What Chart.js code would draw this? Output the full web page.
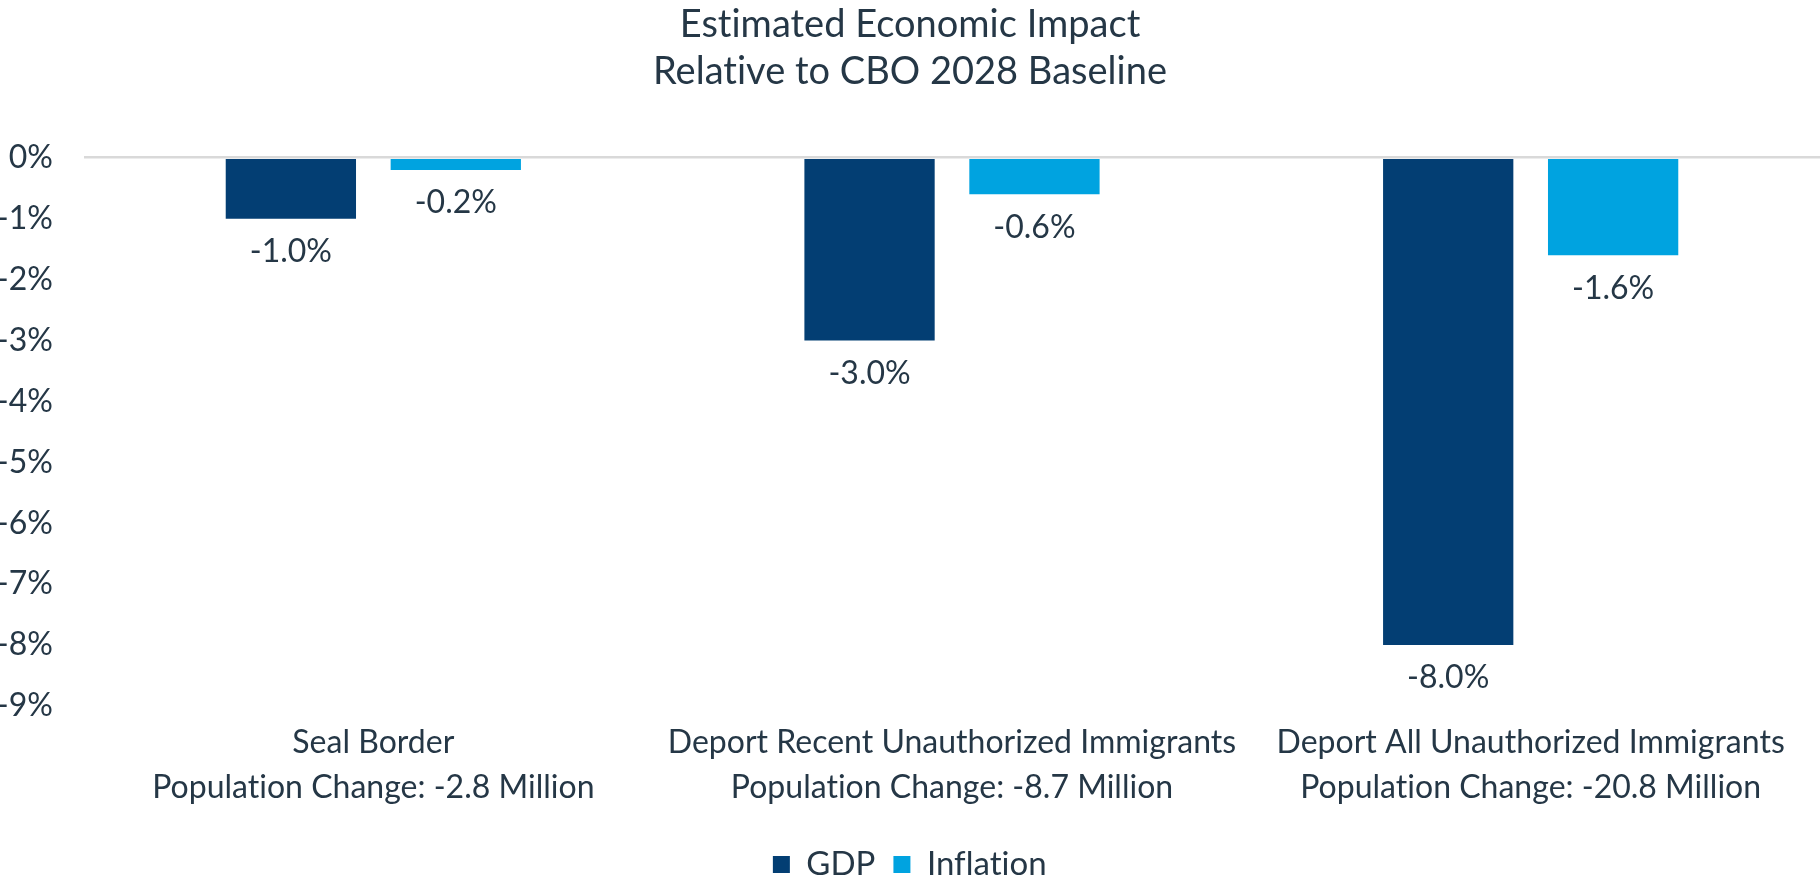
<!DOCTYPE html>
<html lang="en">
  <head>
    <meta charset="UTF-8" />
    <title>Estimated Economic Impact</title>
    <style>
      body {
        margin: 0;
        padding: 0;
        background: #ffffff;
        overflow: hidden;
      }
      /* a bit taller than the window: the legend is cut at the bottom edge like in the original */
      .chart-box {
        position: relative;
        width: 1820px;
        height: 891px;
      }
    </style>
    <script src="https://cdn.jsdelivr.net/npm/chart.js"></script>
  </head>
  <body>
    <div class="chart-box">
      <canvas id="impactChart"></canvas>
    </div>
    <script>
      // values
      const categories = [
        ["Seal Border", "Population Change: -2.8 Million"],
        ["Deport Recent Unauthorized Immigrants", "Population Change: -8.7 Million"],
        ["Deport All Unauthorized Immigrants", "Population Change: -20.8 Million"],
      ];
      const gdpValues = [-1.0, -3.0, -8.0];
      const inflationValues = [-0.2, -0.6, -1.6];
      const titleLines = ["Estimated Economic Impact", "Relative to CBO 2028 Baseline"];

      const textColor = "#253746";
      const fontFamily = "Lato, 'Open Sans', Arial, sans-serif";

      // tiny letter spacing keeps Lato from using its "ti" ligature
      const noLigatures = {
        id: "noLigatures",
        beforeInit(chart) {
          chart.ctx.letterSpacing = "0.01px";
        },
        beforeDraw(chart) {
          chart.ctx.letterSpacing = "0.01px";
        },
      };

      // draws the "-1.0%" style labels under each bar
      const valueLabels = {
        id: "valueLabels",
        afterDatasetsDraw(chart) {
          const ctx = chart.ctx;
          ctx.save();
          ctx.font = "32px " + fontFamily;
          ctx.fillStyle = textColor;
          ctx.textAlign = "center";
          ctx.textBaseline = "middle";
          chart.data.datasets.forEach((ds, i) => {
            const meta = chart.getDatasetMeta(i);
            meta.data.forEach((bar, j) => {
              ctx.fillText(ds.data[j].toFixed(1) + "%", bar.x, bar.y + 33);
            });
          });
          ctx.restore();
        },
      };

      const ctx = document.getElementById("impactChart").getContext("2d");
      const impactChart = new Chart(ctx, {
        type: "bar",
        data: {
          labels: categories,
          datasets: [
            {
              label: "GDP",
              data: gdpValues,
              backgroundColor: "#033e73",
              categoryPercentage: 0.57,
              barPercentage: 0.79,
            },
            {
              label: "Inflation",
              data: inflationValues,
              backgroundColor: "#00a3e0",
              categoryPercentage: 0.57,
              barPercentage: 0.79,
            },
          ],
        },
        options: {
          responsive: true,
          maintainAspectRatio: false,
          animation: false,
          layout: { padding: 0 },
          plugins: {
            title: {
              display: true,
              text: titleLines,
              color: textColor,
              font: { family: fontFamily, size: 38, weight: "normal", lineHeight: 1.22 },
              padding: { top: 2, bottom: 63 },
            },
            legend: {
              position: "bottom",
              labels: {
                color: textColor,
                font: { family: fontFamily, size: 33 },
                boxWidth: 17,
                boxHeight: 17,
                padding: 18,
              },
            },
            tooltip: { enabled: false },
          },
          scales: {
            x: {
              grid: { display: false },
              border: { display: false },
              ticks: {
                color: textColor,
                font: { family: fontFamily, size: 32, lineHeight: 1.4 },
                padding: 6,
                maxRotation: 0,
                autoSkip: false,
              },
              afterFit(scale) {
                scale.height = 124;
              },
            },
            y: {
              min: -9,
              max: 0,
              border: { display: false },
              grid: {
                color: (c) => (c.tick && c.tick.value === 0 ? "#d9d9d9" : "rgba(0,0,0,0)"),
                lineWidth: 2.5,
                drawTicks: false,
              },
              ticks: {
                stepSize: 1,
                color: textColor,
                font: { family: fontFamily, size: 32 },
                padding: 31,
                callback: (v) => v + "%",
              },
              afterFit(scale) {
                scale.width = 84;
              },
            },
          },
        },
        plugins: [noLigatures, valueLabels],
      });
    </script>
  </body>
</html>
